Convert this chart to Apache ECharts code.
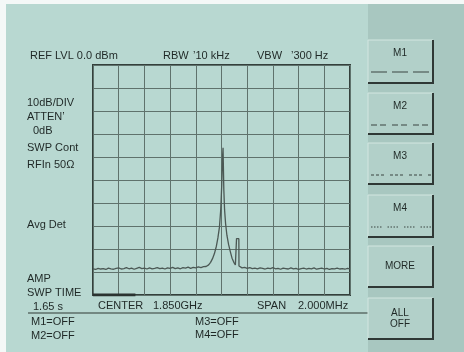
<!DOCTYPE html>
<html>
<head>
<meta charset="utf-8">
<script src="https://cdn.jsdelivr.net/npm/echarts@6/dist/echarts.min.js"></script>
<style>
html,body{margin:0;padding:0;background:#ffffff;}
#chart{width:464px;height:352px;}
</style>
</head>
<body>
<div id="chart"></div>
<script>
// Frequency axis: offset from CENTER 1.850 GHz in kHz, span 2.000 MHz
var freqMinKHz = -1000;
var freqMaxKHz = 1000;
var freqDivKHz = 200;
// Amplitude axis: REF LVL 0.0 dBm, 10 dB/DIV
var refLevelDbm = 0;
var bottomLevelDbm = -100;
var dbPerDiv = 10;

// Noise floor left of the carrier: sweep points every 20 kHz from -1000 kHz
var leftNoiseStartKHz = -1000;
var leftNoiseStepKHz = 20;
var leftNoiseDbm = [
  -88.6,-88.9,-88.4,-88.7,-88.5,-88.9,-88.3,-88.6,-88.8,-88.4,
  -88.2,-88.7,-88.5,-88.1,-88.6,-88.3,-88.8,-88.4,-88.0,-88.5,
  -88.3,-88.7,-88.2,-88.6,-88.4,-88.1,-88.5,-88.3,-88.7,-88.2,
  -88.4,-88.0,-88.5,-88.2,-88.6,-88.1,-88.3,-87.9,-88.4,-88.0,
  -88.2,-87.8,-88.1,-87.7
];

// Carrier and spur region
var peakFreqKHz = [-120,-100,-85,-70,-55,-40,-28,-16,-6,2,8,12,14,18,24,32,42,55,68,82,96,108,116,117,135,136];
var peakDbm     = [-87.6,-86.9,-85.8,-84.2,-82.0,-78.8,-75.2,-70.5,-63.0,-52.0,-40.0,-36.0,-42.0,-54.0,-63.0,-69.0,-74.0,-78.0,-81.0,-84.0,-85.8,-86.9,-87.3,-75.5,-75.5,-87.4];

// Noise floor right of the carrier: sweep points every 20 kHz from 140 kHz
var rightNoiseStartKHz = 140;
var rightNoiseStepKHz = 20;
var rightNoiseDbm = [
  -87.9,-88.2,-88.0,-88.4,-88.1,-88.5,-88.3,-88.6,-88.2,-88.4,
  -88.7,-88.3,-88.5,-88.1,-88.6,-88.4,-88.8,-88.3,-88.5,-88.7,
  -88.2,-88.6,-88.4,-88.9,-88.5,-88.3,-88.7,-88.4,-88.6,-88.2,
  -88.8,-88.5,-88.3,-88.7,-88.4,-88.9,-88.5,-88.6,-88.3,-88.7,
  -88.5,-88.8,-88.4,-88.6
];

// Sweep progress bar at bottom-left of graticule
var sweepBarFreqKHz = [-1000, -670];
var sweepBarDbm = [-100, -100];

var trace = [];
leftNoiseDbm.forEach(function(v,i){ trace.push([leftNoiseStartKHz + i*leftNoiseStepKHz, v]); });
peakFreqKHz.forEach(function(f,i){ trace.push([f, peakDbm[i]]); });
rightNoiseDbm.forEach(function(v,i){ trace.push([rightNoiseStartKHz + i*rightNoiseStepKHz, v]); });
var sweepBar = sweepBarFreqKHz.map(function(f,i){ return [f, sweepBarDbm[i]]; });

var TXT = '#1f2826';
var FONT = '"Liberation Sans", Arial, sans-serif';
function txt(x, y, s, opts){
  opts = opts || {};
  return {type:'text', x:x, y:y, silent:true, style:{text:s, fill:TXT, font:(opts.size||11)+'px '+FONT, textAlign:opts.align||'left', textVerticalAlign:'middle'}};
}
function button(top, bottom, label, dash, lines){
  var els = [];
  els.push({type:'rect', shape:{x:368,y:top,width:65,height:bottom-top}, style:{fill:'#b2d0c9', stroke:'#d3e6e1', lineWidth:1}});
  els.push({type:'polyline', shape:{points:[[368,bottom],[433,bottom],[433,top]]}, style:{stroke:'#2f3835', lineWidth:2, fill:null}});
  if (lines) {
    els.push(txt(400, top+ (bottom-top)/2 - 5, lines[0], {align:'center', size:10}));
    els.push(txt(400, top+ (bottom-top)/2 + 6, lines[1], {align:'center', size:10}));
  } else if (dash) {
    els.push(txt(400, top+13, label, {align:'center', size:10}));
    els.push({type:'line', shape:{x1:371,y1:top+32,x2:431,y2:top+32}, style:{stroke:'#3a4542', lineWidth:1.2, lineDash:dash}});
  } else {
    els.push(txt(400, top+(bottom-top)/2, label, {align:'center', size:10}));
  }
  return els;
}

var graphics = [
  {type:'rect', z:-10, shape:{x:0,y:0,width:464,height:352}, style:{fill:'#f4f8f7'}},
  {type:'rect', z:-9, shape:{x:6,y:4,width:458,height:348}, style:{fill:'#b8d8d1'}},
  {type:'rect', z:-8, shape:{x:368,y:4,width:96,height:348}, style:{fill:'#a8c7c0'}},
  {type:'line', shape:{x1:28,y1:313,x2:368,y2:313}, style:{stroke:'#2f3835', lineWidth:1.2}},
  txt(30, 56, 'REF LVL 0.0 dBm'),
  txt(163, 56, 'RBW'),
  txt(193, 56, '\u201910 kHz'),
  txt(257, 56, 'VBW'),
  txt(291, 56, '\u2019300 Hz'),
  txt(27, 103, '10dB/DIV'),
  txt(27, 117, 'ATTEN\u2019'),
  txt(33, 131, '0dB'),
  txt(27, 148, 'SWP Cont'),
  txt(27, 165, 'RFIn 50\u03A9'),
  txt(27, 225, 'Avg Det'),
  txt(27, 279, 'AMP'),
  txt(27, 293, 'SWP TIME'),
  txt(33, 307, '1.65 s'),
  txt(98, 306, 'CENTER'),
  txt(153, 306, '1.850GHz'),
  txt(257, 306, 'SPAN'),
  txt(298, 306, '2.000MHz'),
  txt(31, 322, 'M1=OFF'),
  txt(31, 336, 'M2=OFF'),
  txt(195, 322, 'M3=OFF'),
  txt(195, 335, 'M4=OFF')
];
graphics = graphics
  .concat(button(40, 83, 'M1', [16,5]))
  .concat(button(93, 134, 'M2', [6,3,6,6]))
  .concat(button(143, 184, 'M3', [3,2,3,2,3,6]))
  .concat(button(195, 237, 'M4', [1.5,1.5,1.5,1.5,1.5,1.5,1.5,6]))
  .concat(button(246, 287, 'MORE'))
  .concat(button(298, 339, null, null, ['ALL','OFF']));

var chart = echarts.init(document.getElementById('chart'), null, {renderer:'canvas'});
chart.setOption({
  animation:false,
  backgroundColor:'transparent',
  grid:{left:93, right:114, top:65, bottom:57, show:true, borderColor:'#34403c', borderWidth:2, backgroundColor:'transparent'},
  xAxis:{type:'value', min:freqMinKHz, max:freqMaxKHz, interval:freqDivKHz,
    axisLine:{show:false}, axisTick:{show:false}, axisLabel:{show:false},
    splitLine:{show:true, lineStyle:{color:'#5f726c', width:1}}},
  yAxis:{type:'value', min:bottomLevelDbm, max:refLevelDbm, interval:dbPerDiv,
    axisLine:{show:false}, axisTick:{show:false}, axisLabel:{show:false},
    splitLine:{show:true, lineStyle:{color:'#5f726c', width:1}}},
  series:[
    {type:'line', data:trace, symbol:'none', lineStyle:{color:'#4b5854', width:1.3}, z:3},
    {type:'line', data:sweepBar, symbol:'none', lineStyle:{color:'#2a3330', width:3}, z:4}
  ],
  graphic:{elements:graphics}
});
</script>
</body>
</html>
